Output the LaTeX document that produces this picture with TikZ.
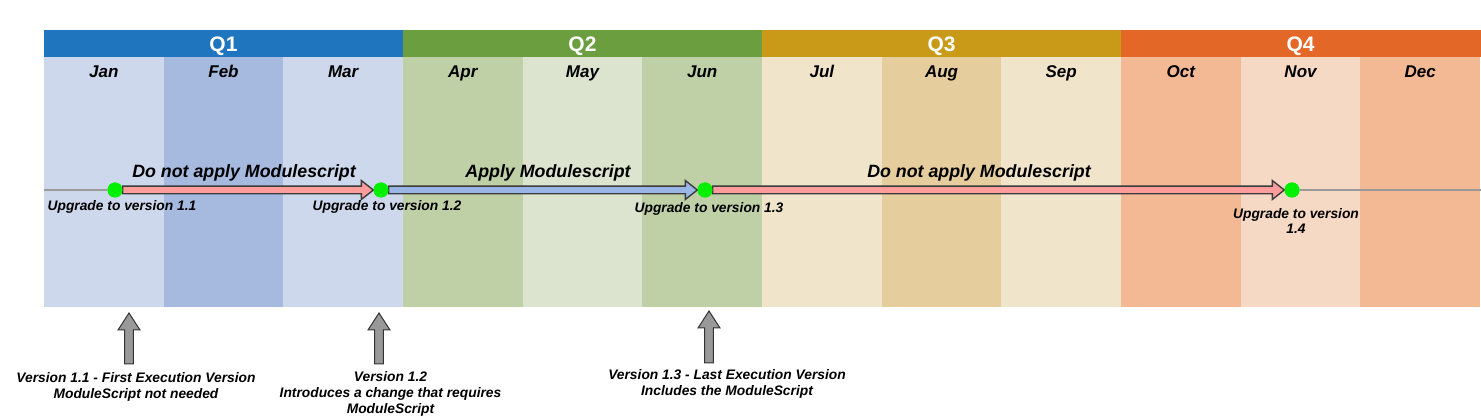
\documentclass[tikz,border=0pt]{standalone}
\usepackage{fontspec}
\setmainfont{Liberation Sans}
\usetikzlibrary{calc}
\definecolor{qa}{HTML}{1F75BE}\definecolor{ma1}{HTML}{CDD8EC}\definecolor{ma2}{HTML}{A6BAE0}
\definecolor{qb}{HTML}{6A9E3E}\definecolor{mb1}{HTML}{BFCFA6}\definecolor{mb2}{HTML}{DCE4CF}
\definecolor{qc}{HTML}{C89A17}\definecolor{mc1}{HTML}{F0E4CA}\definecolor{mc2}{HTML}{E6CD9E}
\definecolor{qd}{HTML}{E36726}\definecolor{md1}{HTML}{F2B994}\definecolor{md2}{HTML}{F6D9C4}
\definecolor{redfill}{HTML}{FF9C9C}\definecolor{bluefill}{HTML}{99B6E6}
\definecolor{arrline}{HTML}{3C3C3C}\definecolor{tlgray}{HTML}{9A9A9A}
\definecolor{dotgreen}{HTML}{00F000}
\newcommand\fatarrow[3]{%
  \path[draw=arrline,line width=1.4pt,fill=#3,line join=miter]
    let \p1=(#1.east),\p2=(#2.west) in
    (\x1,\y1-3.8pt) -- (\x2-12pt,\y1-3.8pt) -- (\x2-12pt,\y1-9.5pt) -- (\x2,\y1)
    -- (\x2-12pt,\y1+9.5pt) -- (\x2-12pt,\y1+3.8pt) -- (\x1,\y1+3.8pt) -- cycle;}
\newcommand\myuparr[3]{% x, top y, bottom y
  \draw[draw=black!80,line width=1pt,fill=black!40,line join=miter]
    (#1,#2) -- (#1+11,#2+17) -- (#1+4.3,#2+17) -- (#1+4.3,#3)
    -- (#1-4.3,#3) -- (#1-4.3,#2+17) -- (#1-11,#2+17) -- cycle;}
\begin{document}
\begin{tikzpicture}[x=1pt,y=-1pt,
  qlbl/.style={text=white,font=\fontsize{21}{24}\selectfont\bfseries,inner sep=0pt,anchor=base},
  mlbl/.style={font=\fontsize{17}{20}\selectfont\bfseries\itshape,inner sep=0pt,anchor=base},
  albl/.style={font=\fontsize{17.8}{21}\selectfont\bfseries\itshape,inner sep=0pt,anchor=base},
  ulbl/.style={font=\fontsize{13.8}{15}\selectfont\bfseries\itshape,inner sep=0pt,align=center,anchor=base},
  blbl/.style={font=\fontsize{13.8}{16}\selectfont\bfseries\itshape,inner sep=0pt,align=center,anchor=north},
  dot/.style={circle,fill=dotgreen,inner sep=0pt,minimum size=15pt},
  tl/.style={draw=tlgray,line width=1.5pt}]
\useasboundingbox (0,0) rectangle (1481,419);
% month columns
\foreach \i/\m/\c in {0/Jan/ma1,1/Feb/ma2,2/Mar/ma1,3/Apr/mb1,4/May/mb2,5/Jun/mb1,
  6/Jul/mc1,7/Aug/mc2,8/Sep/mc1,9/Oct/md1,10/Nov/md2,11/Dec/md1}{
  \fill[\c] ({44+\i*119.67},57) rectangle ({44+(\i+1)*119.67},307);
  \node[mlbl] (m\i) at ({44+(\i+0.5)*119.67},77.5) {\m};
}
% quarter headers
\foreach \q/\c [count=\i from 0] in {Q1/qa,Q2/qb,Q3/qc,Q4/qd}{
  \fill[\c] ({44+\i*359-0.5},30) rectangle ({44+(\i+1)*359+0.5},57);
  \node[qlbl] (q\i) at ({44+(\i+0.5)*359},51.5) {\q};
}
% timeline
\coordinate (tlstart) at (44,190);
\coordinate (tlend) at (1481,190);
\node[dot] (d1) at (115,190) {};
\node[dot] (d2) at (381,190) {};
\node[dot] (d3) at (705,190) {};
\node[dot] (d4) at (1292,190) {};
\draw[tl] (tlstart) -- (d1.west);
\draw[tl] (d4.east) -- (tlend);
\fatarrow{d1}{d2}{redfill}
\fatarrow{d2}{d3}{bluefill}
\fatarrow{d3}{d4}{redfill}
\node[dot] at (d1) {};\node[dot] at (d2) {};\node[dot] at (d3) {};\node[dot] at (d4) {};
% arrow labels
\node[albl] (a1) at (244,177.5) {Do not apply Modulescript};
\node[albl] (a2) at (548,178) {Apply Modulescript};
\node[albl] (a3) at (979,178) {Do not apply Modulescript};
% upgrade labels
\node[ulbl] (u1) at (122,211) {Upgrade to version 1.1};
\node[ulbl] (u2) at (387,211) {Upgrade to version 1.2};
\node[ulbl] (u3) at (709,212.5) {Upgrade to version 1.3};
\node[ulbl] (u4a) at (1296,218.5) {Upgrade to version};
\node[ulbl] (u4b) at (1296,233.5) {1.4};
% bottom notes
\myuparr{129}{313}{364}
\myuparr{379}{313}{364}
\myuparr{709}{311}{363}
\node[blbl] (b1) at (136,372) {Version 1.1 - First Execution Version\\ModuleScript not needed};
\node[blbl] (b2) at (390.5,371) {Version 1.2\\Introduces a change that requires\\ModuleScript};
\node[blbl] (b3) at (727,369.5) {Version 1.3 - Last Execution Version\\Includes the ModuleScript};
\end{tikzpicture}
\end{document}
